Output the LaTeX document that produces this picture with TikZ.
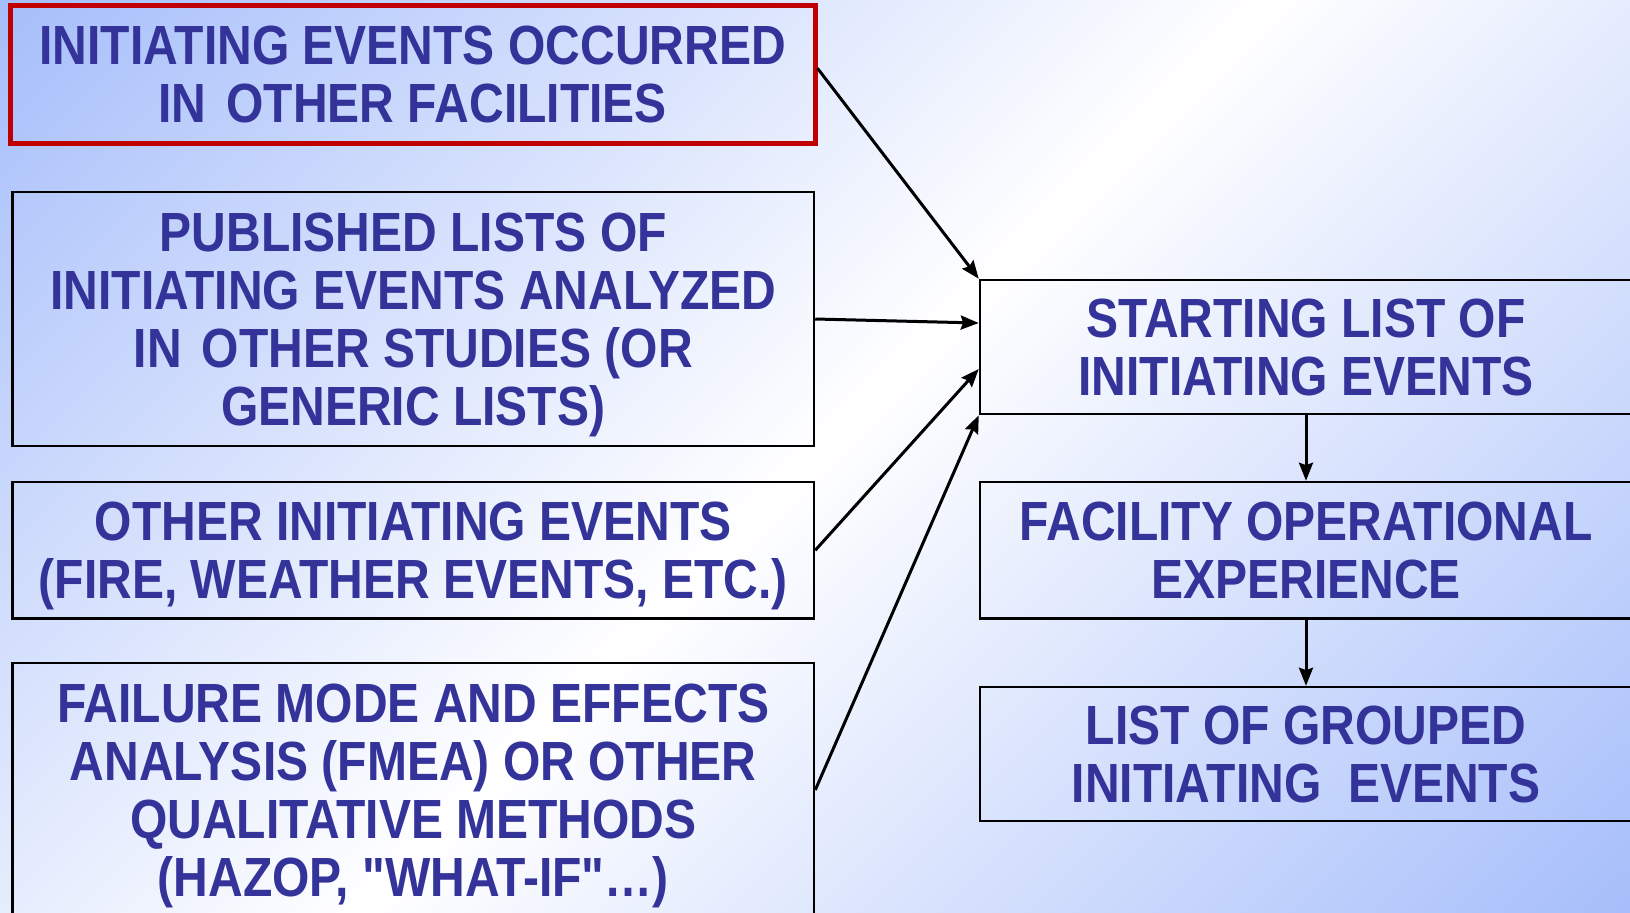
\documentclass[tikz,border=0pt]{standalone}
\usepackage{fontspec}
\usetikzlibrary{arrows.meta,calc}
\newfontfamily\boxfont{Liberation Sans}[FakeStretch=0.87,BoldFont=Liberation Sans Bold]

\definecolor{txtblue}{RGB}{51,51,153}
\definecolor{boxred}{RGB}{192,0,0}
\definecolor{bgblue}{RGB}{166,190,250}

% diagonal background: blue corners, white band along the anti-diagonal
\pgfdeclareverticalshading{bgshade}{100bp}{color(0bp)=(bgblue); color(14.6bp)=(bgblue); color(50bp)=(white); color(85.4bp)=(bgblue); color(100bp)=(bgblue)}

\tikzset{
  box/.style={draw=black, line width=1.25pt, align=center, text=txtblue,
    font=\boxfont\bfseries\fontsize{27.6}{29}\selectfont, inner sep=0pt,
    text depth=0pt},
  redbox/.style={box, draw=boxred, line width=2.5pt},
  leftbox/.style={box, minimum width=400.75pt},
  rightbox/.style={box, minimum width=326pt},
  conn/.style={-{Stealth[length=9pt,width=7pt,inset=1.2pt]}, line width=1.5pt, black}
}

\begin{document}
\begin{tikzpicture}[x=0.5pt,y=-0.5pt]
\useasboundingbox (0,0) rectangle (1630,912);
\clip (0,0) rectangle (1630,912);
\shade[shading=bgshade, shading angle=45] (0,0) rectangle (1630,912);

% sources
\node[redbox, minimum width=402.3pt, minimum height=69.2pt] (occ) at (412.7,74.3)
  {INITIATING EVENTS OCCURRED\\IN\hspace{0.12em} OTHER FACILITIES};
\node[leftbox, minimum height=127pt] (pub) at (413.25,319)
  {PUBLISHED LISTS OF\\INITIATING EVENTS ANALYZED\\IN\hspace{0.12em} OTHER STUDIES (OR\\GENERIC LISTS)};
\node[leftbox, minimum height=68.25pt] (other) at (413.25,550.25)
  {OTHER INITIATING EVENTS\\(FIRE, WEATHER EVENTS, ETC.)};
\node[leftbox, minimum height=127pt] (fmea) at (413.25,790)
  {FAILURE MODE AND EFFECTS\\ANALYSIS (FMEA) OR OTHER\\QUALITATIVE METHODS\\(HAZOP, "WHAT-IF"\ldots)};

% results
\node[rightbox, minimum height=67pt] (start) at (1306,347)
  {STARTING LIST OF\\INITIATING EVENTS};
\node[rightbox, minimum height=68.25pt] (exp) at (1306,550.25)
  {FACILITY OPERATIONAL\\EXPERIENCE};
\node[rightbox, minimum height=67pt] (grp) at (1306,754)
  {LIST OF GROUPED\\INITIATING~~EVENTS};

% connectors
\draw[conn] ([yshift=3pt]occ.east) -- (start.north west);
\draw[conn] (pub.east) -- ([yshift=12pt]start.west);
\draw[conn] (other.east) -- ([yshift=-11pt]start.west);
\draw[conn] (fmea.east) -- (start.south west);
\draw[conn] (start.south) -- (exp.north);
\draw[conn] (exp.south) -- (grp.north);
\end{tikzpicture}
\end{document}
